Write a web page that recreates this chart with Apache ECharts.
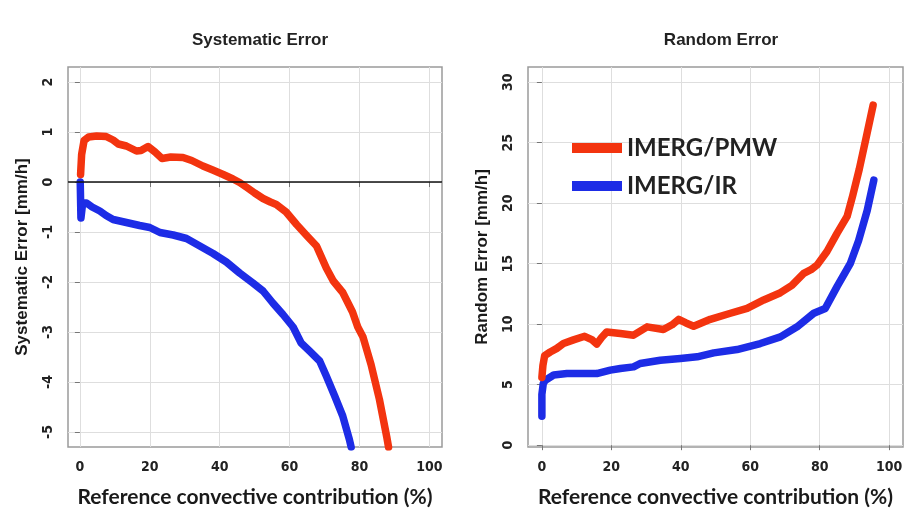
<!DOCTYPE html>
<html>
<head>
<meta charset="utf-8">
<script src="https://cdn.jsdelivr.net/npm/echarts@6/dist/echarts.min.js"></script>
<style>
html,body{margin:0;padding:0;background:#fff;}
#c{width:914px;height:514px;}
</style>
</head>
<body>
<div id="c"></div>
<script>
// ---- data ----
const xTicks = [0, 20, 40, 60, 80, 100];
const sysTicks = [-5, -4, -3, -2, -1, 0, 1, 2];
const randTicks = [0, 5, 10, 15, 20, 25, 30];
const seriesNames = ['IMERG/PMW', 'IMERG/IR'];

// Systematic error, IMERG/PMW
const sysPmwX = [0.2, 0.5, 1.2, 2.5, 4.8, 7.5, 9.5, 11, 13.3, 16.2, 17.5, 19.5, 21.5, 23.5, 26, 29.5, 32, 35.2, 38, 41, 43.8, 45.7, 48, 50, 52.4, 54.5, 56.2, 59, 62, 65, 67.7, 70.5, 72.5, 75.2, 78, 79.5, 81, 83.3, 85.7, 87.8, 88.3];
const sysPmwY = [0.15, 0.55, 0.83, 0.9, 0.92, 0.91, 0.84, 0.76, 0.72, 0.62, 0.63, 0.71, 0.6, 0.47, 0.5, 0.49, 0.43, 0.32, 0.24, 0.15, 0.06, -0.01, -0.12, -0.22, -0.33, -0.4, -0.45, -0.6, -0.85, -1.08, -1.28, -1.72, -1.98, -2.21, -2.6, -2.9, -3.1, -3.65, -4.35, -5.1, -5.3];
// Systematic error, IMERG/IR
const sysIrX = [0.1, 0.3, 0.8, 1.9, 3.5, 5.7, 7.5, 9.5, 13.3, 17.1, 20, 22.9, 26.7, 30.5, 34.3, 38.1, 41.9, 45.7, 49.5, 52.4, 55.2, 58.1, 61, 63.3, 65.7, 68.6, 70.5, 72.9, 75.2, 77.1, 77.6];
const sysIrY = [0, -0.72, -0.42, -0.42, -0.5, -0.58, -0.67, -0.75, -0.81, -0.87, -0.91, -1.01, -1.06, -1.13, -1.28, -1.43, -1.6, -1.82, -2.02, -2.18, -2.42, -2.65, -2.9, -3.22, -3.38, -3.58, -3.88, -4.28, -4.68, -5.15, -5.3];
// Random error, IMERG/PMW
const randPmwX = [0, 0.3, 0.8, 2.4, 4.3, 6.2, 9.1, 12.3, 14.5, 15.8, 17.2, 18.7, 22.6, 26.4, 30.3, 35, 37.5, 39.4, 41.5, 43.7, 48.5, 54.3, 59.1, 63.9, 68.7, 72, 75.4, 77.5, 79.3, 82.1, 85, 87.9, 89.5, 91.4, 93.3, 95.4];
const randPmwY = [5.6, 6.6, 7.4, 7.7, 8.0, 8.4, 8.7, 9.0, 8.7, 8.35, 8.9, 9.36, 9.23, 9.09, 9.78, 9.56, 9.95, 10.4, 10.1, 9.83, 10.4, 10.9, 11.3, 12.0, 12.6, 13.2, 14.2, 14.5, 14.9, 16.0, 17.5, 18.9, 20.6, 22.8, 25.3, 28.1];
// Random error, IMERG/IR
const randIrX = [0, 0, 0.4, 1, 3.4, 7.2, 12, 15.8, 19.7, 22.6, 26.4, 28.3, 34.1, 39.9, 44.7, 49.5, 56.2, 62.9, 68.7, 73.5, 78.3, 81.6, 85, 88.8, 91.2, 93.7, 95.6];
const randIrY = [2.4, 4.2, 5.1, 5.37, 5.8, 5.92, 5.92, 5.92, 6.2, 6.34, 6.47, 6.75, 7.02, 7.16, 7.3, 7.63, 7.9, 8.4, 8.95, 9.78, 10.9, 11.3, 13.1, 15.0, 16.9, 19.4, 21.9];

// ---- styling ----
const RED = '#f3340f';
const BLUE = '#1d2ce6';
const tickFont = "'Liberation Sans Narrow','DejaVu Sans Condensed','Liberation Sans',sans-serif";
const boldFont = "Lato,'Liberation Sans',sans-serif";
const sansFont = "'Liberation Sans',Arial,sans-serif";

function zip(xs, ys) { return xs.map((x, i) => [x, ys[i]]); }

function xAxisDef(gi, mn, mx) {
  return {
    type: 'value', gridIndex: gi, min: mn, max: mx,
    name: 'Reference convective contribution (%)', nameLocation: 'middle', nameGap: 40,
    nameTextStyle: { fontFamily: boldFont, fontWeight: 'bold', fontSize: 21, color: '#1a1a1a' },
    axisLine: { show: false },
    axisTick: { show: true, customValues: xTicks, length: 5, lineStyle: { color: '#777', width: 1 } },
    axisLabel: { customValues: xTicks, fontFamily: tickFont, fontSize: 14, fontWeight: 'bold', color: '#222', margin: 13 },
    splitLine: { show: true, lineStyle: { color: '#dedede', width: 1 } }
  };
}
function yAxisDef(gi, mn, mx, ticks, split, name) {
  return {
    type: 'value', gridIndex: gi, min: mn, max: mx, splitNumber: split,
    name: name, nameLocation: 'middle', nameGap: 37,
    nameTextStyle: { fontFamily: sansFont, fontWeight: 'bold', fontSize: 17, color: '#1a1a1a' },
    axisLine: { show: false },
    axisTick: { show: true, customValues: ticks, length: 5, lineStyle: { color: '#777', width: 1 } },
    axisLabel: { customValues: ticks, rotate: 90, fontFamily: tickFont, fontSize: 14, fontWeight: 'bold', color: '#222', margin: 13 },
    splitLine: { show: true, lineStyle: { color: '#dedede', width: 1 } }
  };
}
function lineSeries(name, xi, data, color, extra) {
  return Object.assign({
    name: name, type: 'line', xAxisIndex: xi, yAxisIndex: xi, data: data,
    showSymbol: false, symbol: 'none', clip: true, animation: false,
    itemStyle: { color: color },
    lineStyle: { color: color, width: 7.5, cap: 'round', join: 'round' }
  }, extra || {});
}

const chart = echarts.init(document.getElementById('c'), null, { renderer: 'canvas' });
chart.setOption({
  animation: false,
  backgroundColor: '#fff',
  title: [
    { text: 'Systematic Error', left: 255, top: 27, textAlign: 'center',
      textStyle: { fontFamily: sansFont, fontWeight: 'bold', fontSize: 17, color: '#222' } },
    { text: 'Random Error', left: 716, top: 27, textAlign: 'center',
      textStyle: { fontFamily: sansFont, fontWeight: 'bold', fontSize: 17, color: '#222' } }
  ],
  legend: {
    data: seriesNames, orient: 'vertical', left: 572, top: 136, padding: 0,
    icon: 'rect', itemWidth: 50, itemHeight: 10, itemGap: 14,
    textStyle: { fontFamily: boldFont, fontWeight: 'bold', fontSize: 24, color: '#222' },
    selectedMode: false
  },
  grid: [
    { left: 68, top: 67, width: 374, height: 380, show: true, borderColor: '#9a9a9a', borderWidth: 1.5, backgroundColor: 'transparent' },
    { left: 528, top: 67, width: 375, height: 380, show: true, borderColor: '#9a9a9a', borderWidth: 1.5, backgroundColor: 'transparent' }
  ],
  xAxis: [ xAxisDef(0, -3.4, 103.6), xAxisDef(1, -4, 104) ],
  yAxis: [
    yAxisDef(0, -5.3, 2.3, sysTicks, 8, 'Systematic Error [mm/h]'),
    yAxisDef(1, -0.15, 31.25, randTicks, 6, 'Random Error [mm/h]')
  ],
  series: [
    lineSeries(seriesNames[1], 0, zip(sysIrX, sysIrY), BLUE),
    lineSeries(seriesNames[0], 0, zip(sysPmwX, sysPmwY), RED, {
      markLine: { silent: true, symbol: 'none', label: { show: false },
        lineStyle: { color: '#111', width: 1.6, type: 'solid' }, data: [{ yAxis: 0 }] }
    }),
    lineSeries(seriesNames[1], 1, zip(randIrX, randIrY), BLUE),
    lineSeries(seriesNames[0], 1, zip(randPmwX, randPmwY), RED)
  ]
});
</script>
</body>
</html>
